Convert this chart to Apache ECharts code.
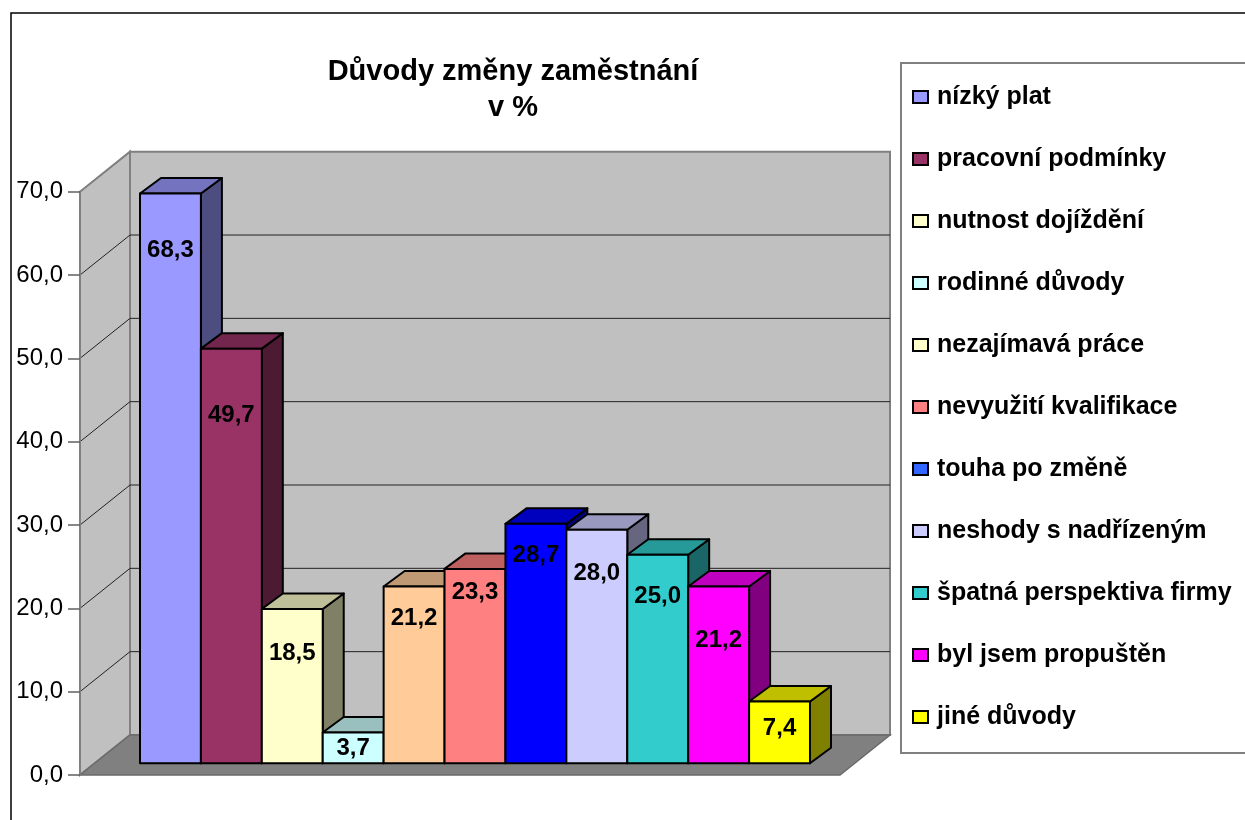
<!DOCTYPE html>
<html>
<head>
<meta charset="utf-8">
<script src="https://cdn.jsdelivr.net/npm/echarts@6/dist/echarts.min.js"></script>
<style>
html, body { margin: 0; padding: 0; background: #fff; }
#main { width: 1245px; height: 820px; }
</style>
</head>
<body>
<div id="main"></div>
<script>
var categories = ['nízký plat', 'pracovní podmínky', 'nutnost dojíždění', 'rodinné důvody', 'nezajímavá práce', 'nevyužití kvalifikace', 'touha po změně', 'neshody s nadřízeným', 'špatná perspektiva firmy', 'byl jsem propuštěn', 'jiné důvody'];
var values = [68.3, 49.7, 18.5, 3.7, 21.2, 23.3, 28.7, 28.0, 25.0, 21.2, 7.4];
var yTicks = [0, 10, 20, 30, 40, 50, 60, 70];

var barColors = ['#9999FF', '#993366', '#FFFFCC', '#CCFFFF', '#FFCC99', '#FF8080', '#0000FF', '#CCCCFF', '#33CCCC', '#FF00FF', '#FFFF00'];
var legendColors = ['#9999FF', '#993366', '#FFFFCC', '#CCFFFF', '#FFFFCC', '#FF8080', '#3366FF', '#CCCCFF', '#33CCCC', '#FF00FF', '#FFFF00'];
// posun popisku pod horni hranu sloupce (px)
var labelDrop = [57, 67, 44, 16, 32, 23, 32, 44, 42, 54, 27];

var FONT = '"Liberation Sans", Arial, sans-serif';
var yMax = yTicks[yTicks.length - 1];
var WALL = [50, -40];   // hloubka steny
var BAR = [21, -15.5];  // hloubka sloupce

function fmt(v) {
    return v.toFixed(1).replace('.', ',');
}

function shade(hex, k) {
    var n = parseInt(hex.slice(1), 16);
    var r = Math.round(((n >> 16) & 255) * k);
    var g = Math.round(((n >> 8) & 255) * k);
    var b = Math.round((n & 255) * k);
    return 'rgb(' + r + ',' + g + ',' + b + ')';
}

function back(p) {
    return [p[0] + WALL[0], p[1] + WALL[1]];
}

function renderBackdrop(params, api) {
    var fl = api.coord([0, 0]);
    var fr = api.coord([1, 0]);
    var tl = api.coord([0, yMax]);
    var btl = back(tl);
    var bbr = back(fr);
    var children = [];
    // leva stena
    children.push({
        type: 'polygon',
        shape: { points: [fl, tl, btl, back(fl)] },
        style: { fill: '#c0c0c0', stroke: '#808080', lineWidth: 2 }
    });
    // zadni stena
    children.push({
        type: 'rect',
        shape: { x: btl[0], y: btl[1], width: bbr[0] - btl[0], height: bbr[1] - btl[1] },
        style: { fill: '#c0c0c0', stroke: '#808080', lineWidth: 2 }
    });
    // podlaha
    children.push({
        type: 'polygon',
        shape: { points: [fl, fr, bbr, back(fl)] },
        style: { fill: '#808080', stroke: '#6a6a6a', lineWidth: 1.5 }
    });
    yTicks.forEach(function (t) {
        if (t === 0 || t === yMax) return;
        var a = api.coord([0, t]);
        var b = api.coord([1, t]);
        children.push({
            type: 'polyline',
            shape: { points: [a, back(a), back(b)] },
            style: { stroke: '#222', lineWidth: 1, fill: null }
        });
    });
    return { type: 'group', children: children };
}

function renderBar(params, api) {
    var idx = api.value(0);
    var v = api.value(1);
    var base = api.coord([idx, 0]);
    var top = api.coord([idx, v]);
    var w = api.size([1, 0])[0];
    var x0 = base[0] - w / 2, x1 = base[0] + w / 2;
    var yb = base[1], yt = top[1];
    var c = barColors[idx];
    var line = { stroke: '#000', lineWidth: 2, lineJoin: 'round' };
    return {
        type: 'group',
        children: [
            {
                type: 'polygon',
                shape: { points: [[x1, yt], [x1 + BAR[0], yt + BAR[1]], [x1 + BAR[0], yb + BAR[1]], [x1, yb]] },
                style: Object.assign({ fill: shade(c, 0.5) }, line)
            },
            {
                type: 'polygon',
                shape: { points: [[x0, yt], [x0 + BAR[0], yt + BAR[1]], [x1 + BAR[0], yt + BAR[1]], [x1, yt]] },
                style: Object.assign({ fill: shade(c, 0.75) }, line)
            },
            {
                type: 'rect',
                shape: { x: x0, y: yt, width: w, height: yb - yt },
                style: Object.assign({ fill: c }, line)
            },
            {
                type: 'text',
                x: base[0],
                y: yt + labelDrop[idx],
                style: {
                    text: fmt(v),
                    font: 'bold 24px ' + FONT,
                    fill: '#000',
                    align: 'center',
                    verticalAlign: 'middle'
                }
            }
        ]
    };
}

var myChart = echarts.init(document.getElementById('main'));

var series = [{
    name: 'pozadi',
    type: 'custom',
    xAxisIndex: 0,
    yAxisIndex: 0,
    silent: true,
    z: 1,
    data: [[0, 0]],
    renderItem: renderBackdrop
}];
categories.forEach(function (name, i) {
    series.push({
        name: name,
        type: 'custom',
        xAxisIndex: 1,
        yAxisIndex: 1,
        z: 3 + i,
        itemStyle: { color: legendColors[i] },
        data: [[i, values[i]]],
        renderItem: renderBar
    });
});

var option = {
    animation: false,
    backgroundColor: '#fff',
    graphic: [
        {
            type: 'rect',
            shape: { x: 11, y: 13, width: 1400, height: 900 },
            style: { fill: null, stroke: '#000', lineWidth: 1.5 },
            silent: true
        },
        {
            type: 'rect',
            shape: { x: 901, y: 63, width: 400, height: 690 },
            style: { fill: '#fff', stroke: '#808080', lineWidth: 2 },
            silent: true
        },
        {
            type: 'text',
            x: 513,
            y: 90,
            style: {
                text: 'Důvody změny zaměstnání\nv %',
                font: 'bold 29px ' + FONT,
                lineHeight: 36,
                fill: '#000',
                align: 'center',
                verticalAlign: 'middle'
            }
        }
    ],
    legend: {
        orient: 'vertical',
        left: 912,
        top: 84,
        padding: 0,
        icon: 'rect',
        itemWidth: 15,
        itemHeight: 12,
        itemGap: 36,
        selectedMode: false,
        itemStyle: { borderColor: '#000', borderWidth: 2 },
        textStyle: {
            fontFamily: FONT,
            fontWeight: 'bold',
            fontSize: 25,
            lineHeight: 26,
            color: '#000',
            padding: [0, 0, 0, 4]
        },
        data: categories
    },
    grid: [
        { left: 80, top: 191.7, width: 760, height: 583.3 },
        { left: 140, top: 179.3, width: 670, height: 584 }
    ],
    xAxis: [
        { gridIndex: 0, type: 'value', min: 0, max: 1, show: false },
        { gridIndex: 1, type: 'category', data: categories, show: false }
    ],
    yAxis: [
        {
            gridIndex: 0,
            type: 'value',
            min: 0,
            max: yMax,
            interval: 10,
            z: 5,
            axisLine: { show: true, lineStyle: { color: '#808080', width: 2 } },
            axisTick: { show: true, length: 12, lineStyle: { color: '#606060', width: 1.5 } },
            axisLabel: {
                margin: 17,
                color: '#000',
                fontFamily: FONT,
                fontSize: 24,
                formatter: function (v) { return fmt(v); }
            },
            splitLine: { show: false }
        },
        { gridIndex: 1, type: 'value', min: 0, max: yMax, show: false }
    ],
    series: series
};
myChart.setOption(option);
</script>
</body>
</html>
